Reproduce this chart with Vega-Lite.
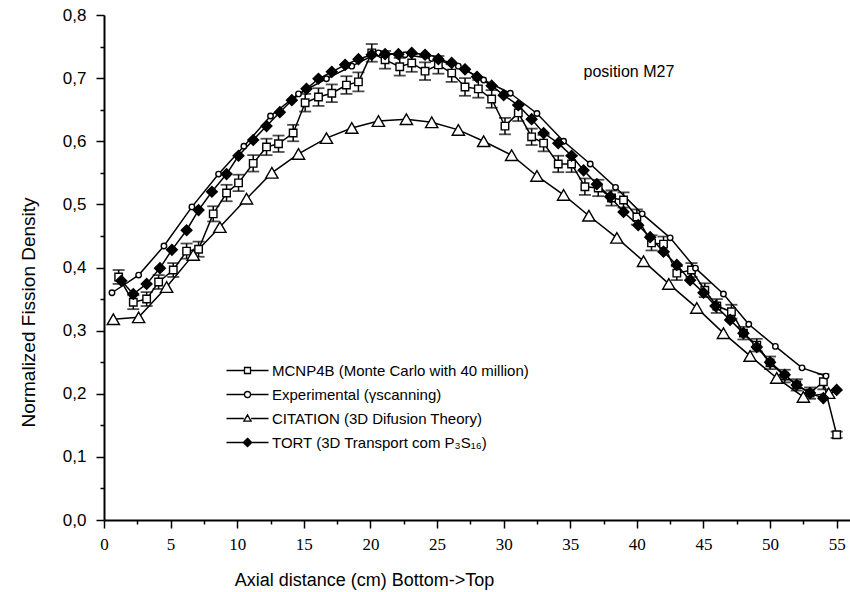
{
  "$schema": "https://vega.github.io/schema/vega-lite/v6.json",
  "width": 746,
  "height": 505,
  "autosize": "none",
  "padding": {"left": 104, "top": 15, "right": 0, "bottom": 72},
  "background": "white",
  "config": {
    "view": {"stroke": null},
    "axis": {"grid": false, "domainColor": "black", "tickColor": "black", "labelColor": "black", "titleColor": "black", "domainWidth": 2, "tickWidth": 1.5, "titleFontWeight": "normal"}
  },
  "datasets": {
    "main": [
      {"s":"A","x":1.1,"y":0.385,"e":0.011},{"s":"A","x":2.2,"y":0.345,"e":0.011},{"s":"A","x":3.2,"y":0.350,"e":0.011},{"s":"A","x":4.1,"y":0.377,"e":0.011},{"s":"A","x":5.2,"y":0.396,"e":0.011},{"s":"A","x":6.2,"y":0.426,"e":0.012},{"s":"A","x":7.1,"y":0.429,"e":0.012},{"s":"A","x":8.2,"y":0.485,"e":0.012},{"s":"A","x":9.2,"y":0.518,"e":0.013},{"s":"A","x":10.1,"y":0.534,"e":0.013},{"s":"A","x":11.2,"y":0.565,"e":0.013},{"s":"A","x":12.2,"y":0.591,"e":0.013},{"s":"A","x":13.1,"y":0.596,"e":0.013},{"s":"A","x":14.2,"y":0.613,"e":0.013},{"s":"A","x":15.1,"y":0.661,"e":0.014},{"s":"A","x":16.1,"y":0.670,"e":0.014},{"s":"A","x":17.1,"y":0.676,"e":0.014},{"s":"A","x":18.2,"y":0.689,"e":0.014},{"s":"A","x":19.1,"y":0.694,"e":0.015},{"s":"A","x":20.1,"y":0.740,"e":0.014},{"s":"A","x":21.1,"y":0.729,"e":0.014},{"s":"A","x":22.2,"y":0.718,"e":0.014},{"s":"A","x":23.1,"y":0.724,"e":0.014},{"s":"A","x":24.1,"y":0.711,"e":0.014},{"s":"A","x":25.1,"y":0.721,"e":0.014},{"s":"A","x":26.1,"y":0.708,"e":0.014},{"s":"A","x":27.1,"y":0.686,"e":0.014},{"s":"A","x":28.1,"y":0.683,"e":0.014},{"s":"A","x":29.1,"y":0.667,"e":0.014},{"s":"A","x":30.1,"y":0.624,"e":0.013},{"s":"A","x":31.1,"y":0.645,"e":0.013},{"s":"A","x":32.1,"y":0.607,"e":0.013},{"s":"A","x":33.0,"y":0.597,"e":0.013},{"s":"A","x":34.1,"y":0.564,"e":0.013},{"s":"A","x":35.1,"y":0.564,"e":0.013},{"s":"A","x":36.1,"y":0.528,"e":0.013},{"s":"A","x":37.1,"y":0.526,"e":0.013},{"s":"A","x":38.1,"y":0.510,"e":0.012},{"s":"A","x":39.0,"y":0.507,"e":0.012},{"s":"A","x":40.0,"y":0.480,"e":0.012},{"s":"A","x":41.1,"y":0.439,"e":0.012},{"s":"A","x":42.0,"y":0.437,"e":0.012},{"s":"A","x":43.0,"y":0.391,"e":0.011},{"s":"A","x":44.1,"y":0.396,"e":0.011},{"s":"A","x":45.1,"y":0.364,"e":0.011},{"s":"A","x":46.0,"y":0.339,"e":0.011},{"s":"A","x":47.1,"y":0.330,"e":0.011},{"s":"A","x":48.0,"y":0.296,"e":0.010},{"s":"A","x":49.0,"y":0.277,"e":0.010},{"s":"A","x":50.0,"y":0.249,"e":0.010},{"s":"A","x":51.1,"y":0.228,"e":0.010},{"s":"A","x":52.0,"y":0.214,"e":0.009},{"s":"A","x":53.0,"y":0.201,"e":0.009},{"s":"A","x":54.0,"y":0.219,"e":0.012},{"s":"A","x":55.0,"y":0.135,"e":0.005},
      {"s":"B","x":0.6,"y":0.360},{"s":"B","x":2.6,"y":0.388},{"s":"B","x":4.5,"y":0.434},{"s":"B","x":6.6,"y":0.496},{"s":"B","x":8.6,"y":0.548},{"s":"B","x":10.5,"y":0.592},{"s":"B","x":12.5,"y":0.640},{"s":"B","x":14.6,"y":0.675},{"s":"B","x":16.7,"y":0.699},{"s":"B","x":18.6,"y":0.719},{"s":"B","x":20.6,"y":0.740},{"s":"B","x":22.6,"y":0.737},{"s":"B","x":24.6,"y":0.731},{"s":"B","x":26.6,"y":0.719},{"s":"B","x":28.5,"y":0.697},{"s":"B","x":30.5,"y":0.676},{"s":"B","x":32.5,"y":0.644},{"s":"B","x":34.5,"y":0.600},{"s":"B","x":36.5,"y":0.564},{"s":"B","x":38.4,"y":0.527},{"s":"B","x":40.4,"y":0.485},{"s":"B","x":42.5,"y":0.447},{"s":"B","x":44.4,"y":0.399},{"s":"B","x":46.5,"y":0.358},{"s":"B","x":48.4,"y":0.310},{"s":"B","x":50.4,"y":0.275},{"s":"B","x":52.4,"y":0.241},{"s":"B","x":54.2,"y":0.228},
      {"s":"C","x":0.7,"y":0.318},{"s":"C","x":2.6,"y":0.321},{"s":"C","x":4.7,"y":0.369},{"s":"C","x":6.7,"y":0.420},{"s":"C","x":8.7,"y":0.464},{"s":"C","x":10.7,"y":0.509},{"s":"C","x":12.6,"y":0.550},{"s":"C","x":14.6,"y":0.580},{"s":"C","x":16.7,"y":0.605},{"s":"C","x":18.6,"y":0.621},{"s":"C","x":20.6,"y":0.632},{"s":"C","x":22.7,"y":0.635},{"s":"C","x":24.6,"y":0.630},{"s":"C","x":26.6,"y":0.618},{"s":"C","x":28.5,"y":0.600},{"s":"C","x":30.6,"y":0.578},{"s":"C","x":32.5,"y":0.545},{"s":"C","x":34.5,"y":0.515},{"s":"C","x":36.4,"y":0.482},{"s":"C","x":38.5,"y":0.447},{"s":"C","x":40.5,"y":0.410},{"s":"C","x":42.4,"y":0.374},{"s":"C","x":44.5,"y":0.336},{"s":"C","x":46.5,"y":0.296},{"s":"C","x":48.5,"y":0.260},{"s":"C","x":50.5,"y":0.225},{"s":"C","x":52.5,"y":0.195},{"s":"C","x":54.4,"y":0.201},
      {"s":"D","x":1.3,"y":0.379},{"s":"D","x":2.2,"y":0.358},{"s":"D","x":3.2,"y":0.374},{"s":"D","x":4.2,"y":0.399},{"s":"D","x":5.1,"y":0.428},{"s":"D","x":6.2,"y":0.459},{"s":"D","x":7.1,"y":0.491},{"s":"D","x":8.1,"y":0.520},{"s":"D","x":9.2,"y":0.548},{"s":"D","x":10.1,"y":0.577},{"s":"D","x":11.2,"y":0.602},{"s":"D","x":12.2,"y":0.624},{"s":"D","x":13.2,"y":0.646},{"s":"D","x":14.1,"y":0.665},{"s":"D","x":15.2,"y":0.683},{"s":"D","x":16.1,"y":0.699},{"s":"D","x":17.1,"y":0.710},{"s":"D","x":18.1,"y":0.721},{"s":"D","x":19.1,"y":0.730},{"s":"D","x":20.1,"y":0.737},{"s":"D","x":21.1,"y":0.738},{"s":"D","x":22.1,"y":0.738},{"s":"D","x":23.1,"y":0.740},{"s":"D","x":24.1,"y":0.737},{"s":"D","x":25.1,"y":0.730},{"s":"D","x":26.1,"y":0.724},{"s":"D","x":27.1,"y":0.714},{"s":"D","x":28.0,"y":0.702},{"s":"D","x":29.1,"y":0.688},{"s":"D","x":30.0,"y":0.673},{"s":"D","x":31.1,"y":0.657},{"s":"D","x":32.1,"y":0.635},{"s":"D","x":33.0,"y":0.613},{"s":"D","x":34.1,"y":0.597},{"s":"D","x":35.1,"y":0.577},{"s":"D","x":36.0,"y":0.554},{"s":"D","x":37.0,"y":0.532},{"s":"D","x":38.0,"y":0.512},{"s":"D","x":39.0,"y":0.488},{"s":"D","x":40.1,"y":0.467},{"s":"D","x":41.0,"y":0.448},{"s":"D","x":42.0,"y":0.425},{"s":"D","x":43.0,"y":0.404},{"s":"D","x":44.0,"y":0.380},{"s":"D","x":45.0,"y":0.360},{"s":"D","x":45.9,"y":0.339},{"s":"D","x":47.0,"y":0.317},{"s":"D","x":48.0,"y":0.296},{"s":"D","x":49.0,"y":0.274},{"s":"D","x":50.0,"y":0.250},{"s":"D","x":51.1,"y":0.230},{"s":"D","x":52.0,"y":0.214},{"s":"D","x":53.0,"y":0.201},{"s":"D","x":54.0,"y":0.193},{"s":"D","x":55.0,"y":0.206}
    ],
    "note": [{"x": 36, "y": 0.71, "t": "position M27"}]
  },
  "data": {"name": "main"},
  "encoding": {
    "x": {
      "field": "x", "type": "quantitative",
      "scale": {"domain": [0, 56], "nice": false, "zero": false},
      "axis": {
        "title": "Axial distance (cm) Bottom->Top",
        "values": [0,2.5,5,7.5,10,12.5,15,17.5,20,22.5,25,27.5,30,32.5,35,37.5,40,42.5,45,47.5,50,52.5,55],
        "labelExpr": "datum.value % 5 === 0 ? '' + datum.value : ''",
        "tickSize": {"condition": {"test": "datum.value % 5 === 0", "value": 8}, "value": 4},
        "labelOverlap": false, "labelFlush": false,
        "labelFont": "Liberation Sans Narrow", "labelFontSize": 17, "labelPadding": 8,
        "titleFont": "Liberation Sans", "titleFontSize": 18,
        "titleX": 260, "titleY": 60, "titleAlign": "center", "titleBaseline": "middle"
      }
    },
    "y": {
      "field": "y", "type": "quantitative",
      "scale": {"domain": [0, 0.8], "nice": false},
      "axis": {
        "title": "Normalized Fission Density",
        "values": [0,0.05,0.1,0.15,0.2,0.25,0.3,0.35,0.4,0.45,0.5,0.55,0.6,0.65,0.7,0.75,0.8],
        "labelExpr": "abs(datum.value*10 - round(datum.value*10)) < 0.001 ? replace(format(datum.value, '.1f'), '.', ',') : ''",
        "tickSize": {"condition": {"test": "abs(datum.value*10 - round(datum.value*10)) < 0.001", "value": 8}, "value": 4},
        "labelOverlap": false, "labelFlush": false,
        "labelFont": "Liberation Sans", "labelFontSize": 17, "labelPadding": 10,
        "titleFont": "Liberation Sans", "titleFontSize": 19,
        "titleX": -76, "titleY": 297, "titleAngle": -90, "titleAlign": "center", "titleBaseline": "middle"
      }
    }
  },
  "layer": [
    {
      "mark": {"type": "line", "color": "black", "strokeWidth": 1.5},
      "encoding": {"detail": {"field": "s"}}
    },
    {
      "transform": [{"filter": "datum.s === 'A'"}],
      "mark": {"type": "errorbar", "color": "black", "ticks": {"size": 12, "thickness": 1.8}, "rule": {"strokeWidth": 1.5}},
      "encoding": {"yError": {"field": "e"}}
    },
    {
      "mark": {"type": "point", "filled": true, "stroke": "black", "strokeWidth": 1.4, "opacity": 1},
      "encoding": {
        "shape": {"condition": [{"test": "datum.s === 'A'", "value": "square"}, {"test": "datum.s === 'B'", "value": "circle"}, {"test": "datum.s === 'C'", "value": "triangle-up"}], "value": "diamond"},
        "fill": {"condition": {"test": "datum.s === 'D'", "value": "black"}, "value": "white"},
        "size": {"condition": [{"test": "datum.s === 'B'", "value": 30}, {"test": "datum.s === 'C'", "value": 150}, {"test": "datum.s === 'D'", "value": 115}], "value": 56}
      }
    },
    {
      "transform": [{"filter": "false"}],
      "mark": {"type": "point", "filled": false, "strokeWidth": 1.3, "opacity": 1},
      "encoding": {
        "shape": {
          "field": "s", "type": "nominal",
          "scale": {"domain": ["A","B","C","D"], "range": ["M-7,0L-1,0M1,0L7,0M-1,-1L1,-1L1,1L-1,1Z", "M-7,0L-1,0M1,0L7,0M-1,0A1,1 0 1,0 1,0A1,1 0 1,0 -1,0Z", "M-7,0L-1.2,0M1.2,0L7,0M0,-1.2L1.2,0.9L-1.2,0.9Z", "M-7,0L7,0M0,-1.4L1.4,0L0,1.4L-1.4,0Z"]},
          "legend": {
            "title": null, "orient": "none", "legendX": 136, "legendY": 348, "padding": 0,
            "symbolSize": 36, "labelOffset": 17, "rowPadding": 8,
            "symbolStrokeWidth": 1.3, "symbolOpacity": 1,
            "labelFont": "Liberation Sans", "labelFontSize": 15, "labelColor": "black",
            "labelLimit": 400,
            "labelExpr": "datum.value === 'A' ? 'MCNP4B (Monte Carlo with 40 million)' : datum.value === 'B' ? 'Experimental (γscanning)' : datum.value === 'C' ? 'CITATION (3D Difusion Theory)' : 'TORT (3D Transport com P₃S₁₆)'"
          }
        },
        "fill": {
          "field": "s", "type": "nominal",
          "scale": {"domain": ["A","B","C","D"], "range": ["white","white","white","black"]},
          "legend": {
            "title": null, "orient": "none", "legendX": 136, "legendY": 348, "padding": 0,
            "symbolSize": 36, "labelOffset": 17, "rowPadding": 8,
            "symbolStrokeWidth": 1.3, "symbolOpacity": 1,
            "labelFont": "Liberation Sans", "labelFontSize": 15, "labelColor": "black",
            "labelLimit": 400,
            "labelExpr": "datum.value === 'A' ? 'MCNP4B (Monte Carlo with 40 million)' : datum.value === 'B' ? 'Experimental (γscanning)' : datum.value === 'C' ? 'CITATION (3D Difusion Theory)' : 'TORT (3D Transport com P₃S₁₆)'"
          }
        },
        "stroke": {
          "field": "s", "type": "nominal",
          "scale": {"domain": ["A","B","C","D"], "range": ["black","black","black","black"]},
          "legend": {
            "title": null, "orient": "none", "legendX": 136, "legendY": 348, "padding": 0,
            "symbolSize": 36, "labelOffset": 17, "rowPadding": 8,
            "symbolStrokeWidth": 1.3, "symbolOpacity": 1,
            "labelFont": "Liberation Sans", "labelFontSize": 15, "labelColor": "black",
            "labelLimit": 400,
            "labelExpr": "datum.value === 'A' ? 'MCNP4B (Monte Carlo with 40 million)' : datum.value === 'B' ? 'Experimental (γscanning)' : datum.value === 'C' ? 'CITATION (3D Difusion Theory)' : 'TORT (3D Transport com P₃S₁₆)'"
          }
        }
      }
    },
    {
      "data": {"name": "note"},
      "mark": {"type": "text", "align": "left", "baseline": "middle", "fontSize": 16, "font": "Liberation Sans", "color": "black"},
      "encoding": {"text": {"field": "t"}}
    }
  ]
}
